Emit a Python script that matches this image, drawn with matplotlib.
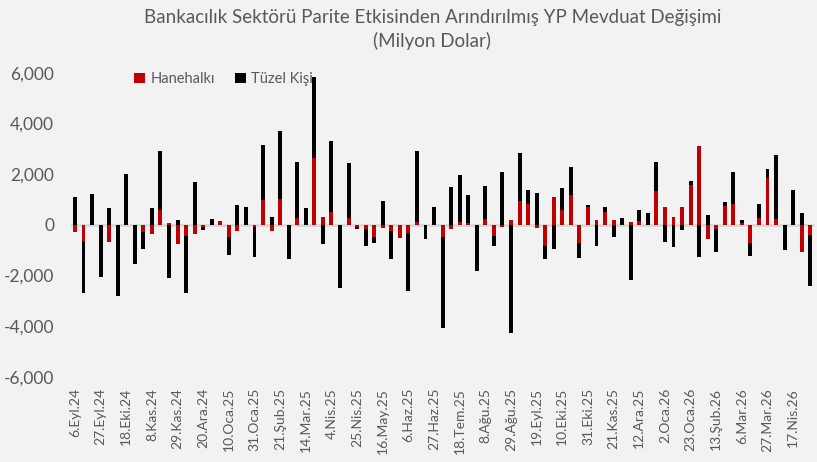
import matplotlib
matplotlib.use("Agg")
import matplotlib.pyplot as plt
import numpy as np

plt.rcParams['font.family'] = ['Lato', 'DejaVu Sans']

# Weekly values (million USD), 6.Eyl.24 .. 1.May.26 (87 weeks)
hanehalki = [
    -290, -630, 0, 0, -670, 0, 0, 0, -290, -370,
    580, 65, -760, -460, -370, -90, 0, 145, -500, -240,
    0, -90, 960, -240, 1000, 0, 280, 0, 2650, 310,
    490, 0, 280, -90, -160, -500, -120, -240, -520, -330,
    90, 0, 0, -500, -160, 90, 50, 0, 220, -460,
    -90, 180, 920, 800, -120, -840, 1100, 580, 1180, -720,
    710, 180, 520, 180, 0, 90, 145, 0, 1350, 710,
    310, 710, 1570, 3120, -550, -160, 750, 800, 50, -720,
    280, 1840, 220, 0, 0, -1060, -420,
]
tuzel_kisi = [
    1100, -2060, 1220, -2060, 670, -2820, 2010, -1570, -680, 670,
    2340, -2100, 180, -2230, 1690, -120, 220, 0, -680, 790,
    710, -1180, 2200, 310, 2690, -1360, 2200, 660, 3190, -760,
    2810, -2490, 2150, -60, -680, -220, 920, -1130, 0, -2280,
    2820, -550, 710, -3580, 1480, 1870, 1120, -1840, 1300, -380,
    2090, -4290, 1900, 590, 1260, -530, -970, 870, 1080, -590,
    80, -840, 180, -500, 280, -2180, 430, 450, 1130, -670,
    -890, -200, 170, -1270, 390, -910, 130, 1290, 130, -510,
    550, 340, 2550, -1010, 1390, 450, -2000,
]
tick_labels = [
    "6.Eyl.24", "27.Eyl.24", "18.Eki.24", "8.Kas.24", "29.Kas.24", "20.Ara.24",
    "10.Oca.25", "31.Oca.25", "21.Şub.25", "14.Mar.25", "4.Nis.25", "25.Nis.25",
    "16.May.25", "6.Haz.25", "27.Haz.25", "18.Tem.25", "8.Ağu.25", "29.Ağu.25",
    "19.Eyl.25", "10.Eki.25", "31.Eki.25", "21.Kas.25", "12.Ara.25", "2.Oca.26",
    "23.Oca.26", "13.Şub.26", "6.Mar.26", "27.Mar.26", "17.Nis.26",
]

h = np.array(hanehalki, dtype=float)
t = np.array(tuzel_kisi, dtype=float)
x = np.arange(len(h))

# Excel-style stacking: positives stack upward, negatives downward
h_base = np.zeros_like(h)
t_base = np.where(t >= 0, np.where(h > 0, h, 0.0), np.where(h < 0, h, 0.0))

bg = "#F2F2F2"
txt = "#595959"

fig = plt.figure(figsize=(8.17, 4.62), dpi=100, facecolor=bg)
ax = fig.add_axes([0.0865, 0.1846, 0.9105, 0.658])
ax.set_facecolor(bg)

w = 0.46
ax.bar(x, h, width=w, bottom=h_base, color="#C00000", label="Hanehalkı", zorder=3)
ax.bar(x, t, width=w, bottom=t_base, color="#000000", label="Tüzel Kişi", zorder=3)

ax.axhline(0, color="#D9D9D9", lw=2, zorder=2)

ax.set_xlim(-0.5, len(h) - 0.5)
ax.set_ylim(-6000, 6000)
ax.set_yticks(np.arange(-6000, 6001, 2000))
ax.yaxis.set_major_formatter(matplotlib.ticker.FuncFormatter(lambda v, p: f"{int(v):,}"))
ax.set_xticks(np.arange(0, len(h), 3)[:len(tick_labels)])
ax.set_xticklabels(tick_labels, rotation=90, fontsize=10, color=txt)
ax.tick_params(axis="y", labelsize=12.5, labelcolor=txt, length=0, pad=12)
ax.tick_params(axis="x", length=0, pad=8)
for s in ax.spines.values():
    s.set_visible(False)

leg = ax.legend(loc="upper left", bbox_to_anchor=(0.068, 1.045), ncol=2, frameon=False,
                fontsize=10.5, handlelength=0.7, handleheight=0.7, handletextpad=0.4,
                columnspacing=1.4, labelcolor=txt)

fig.text(0.529, 0.963, "Bankacılık Sektörü Parite Etkisinden Arındırılmış YP Mevduat Değişimi",
         ha="center", va="center", fontsize=13.5, color=txt)
fig.text(0.529, 0.912, "(Milyon Dolar)", ha="center", va="center", fontsize=13.5, color=txt)

fig.savefig("out.png", dpi=100, facecolor=bg)
